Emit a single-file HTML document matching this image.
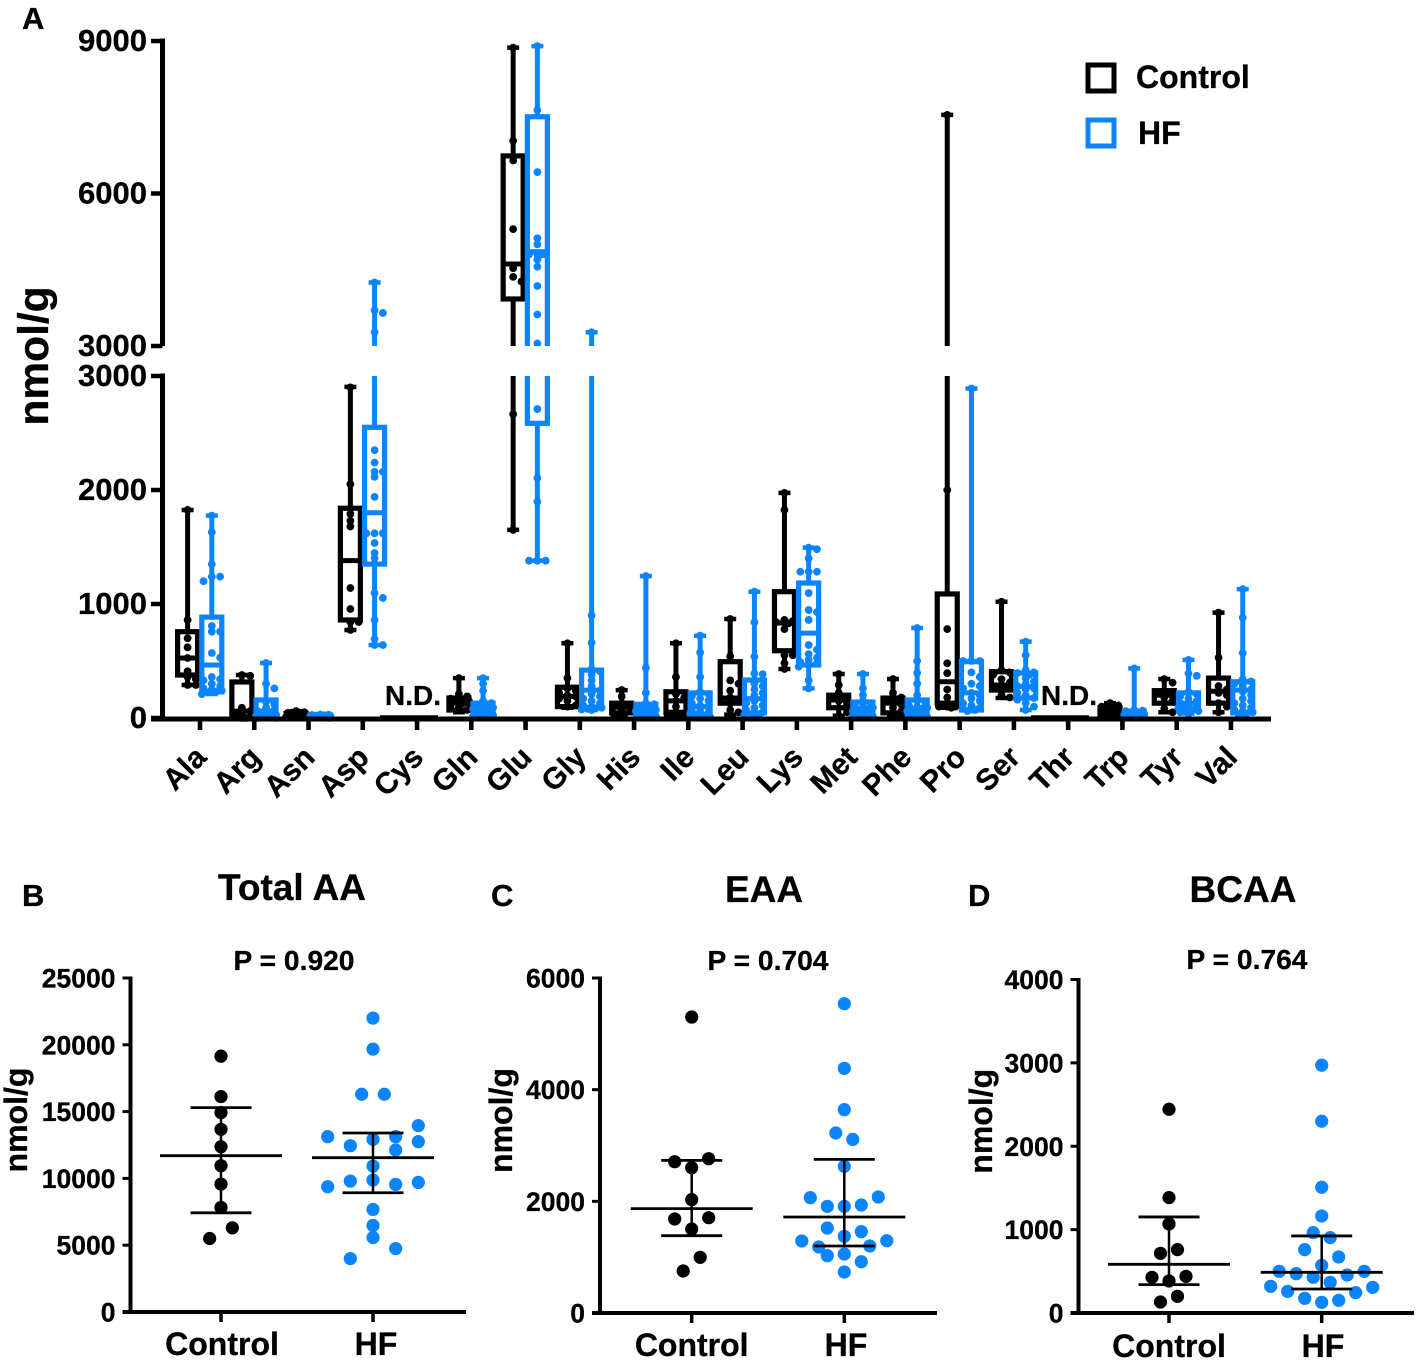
<!DOCTYPE html>
<html lang="en">
<head>
<meta charset="utf-8">
<title>Amino acid concentrations: Control vs HF</title>
<style>
html,body{margin:0;padding:0;background:#fff;}
svg{display:block;filter:blur(0.35px);}
text{font-family:"Liberation Sans",Arial,sans-serif;font-weight:700;fill:#000;stroke:#000;stroke-width:0.3px;}
</style>
</head>
<body>
<svg id="figure" xmlns="http://www.w3.org/2000/svg" width="1417" height="1361" viewBox="0 0 1417 1361">
  <defs>
    <clipPath id="broken-axis-clip">
      <rect x="0" y="0" width="1417" height="346"></rect>
      <rect x="0" y="376" width="1417" height="985"></rect>
    </clipPath>
  </defs>
  <rect x="0" y="0" width="1417" height="1361" fill="#fff"></rect>

  <text x="22" y="29" font-size="31">A</text>
  <text x="22" y="906" font-size="31">B</text>
  <text x="491" y="906" font-size="31">C</text>
  <text x="968" y="906" font-size="31">D</text>

  <text transform="translate(48,356) rotate(-90)" text-anchor="middle" font-size="42.5">nmol/g</text>
  <text x="413" y="705" text-anchor="middle" font-size="28">N.D.</text>
  <text x="1069" y="705" text-anchor="middle" font-size="28">N.D.</text>

  <g>
    <rect x="1088" y="65" width="26" height="26" fill="none" stroke="#000" stroke-width="5"></rect>
    <text x="1136" y="88" font-size="32">Control</text>
    <rect x="1088" y="120" width="26" height="26" fill="none" stroke="#0a84ff" stroke-width="5"></rect>
    <text x="1138" y="144" font-size="32">HF</text>
  </g>

  <text x="292" y="900" text-anchor="middle" font-size="37">Total AA</text>
  <text x="764" y="902" text-anchor="middle" font-size="37">EAA</text>
  <text x="1243" y="902" text-anchor="middle" font-size="37">BCAA</text>
  <text x="294" y="970" text-anchor="middle" font-size="28" textLength="121" lengthAdjust="spacingAndGlyphs">P = 0.920</text>
  <text x="768" y="970" text-anchor="middle" font-size="28" textLength="121" lengthAdjust="spacingAndGlyphs">P = 0.704</text>
  <text x="1247" y="969" text-anchor="middle" font-size="28" textLength="121" lengthAdjust="spacingAndGlyphs">P = 0.764</text>

  <g id="panel-a"></g>
  <g id="panel-b"></g>
  <g id="panel-c"></g>
  <g id="panel-d"></g>
</svg>

<script>
// ---------- Panel A data (nmol/g) ----------
const aminoAcids = ['Ala','Arg','Asn','Asp','Cys','Gln','Glu','Gly','His','Ile','Leu','Lys','Met','Phe','Pro','Ser','Thr','Trp','Tyr','Val'];
const panelAUpperTicks = [3000, 6000, 9000];
const panelALowerTicks = [0, 1000, 2000, 3000];

const controlMin    = [290,  0,  5, 772, null,  50, 1650,  90, 30,  10,  30, 430, 20, 10,   90, 175, null,  5,  50,  50];
const controlQ1     = [377,  0, 15, 860, null,  70, 3925, 100, 45,  50, 130, 590, 90, 45,  130, 245, null, 10, 130, 130];
const controlMedian = [526, 60, 25,1380, null, 130, 4613, 190, 95, 150, 175, 833,158,130,  318, 290, null, 50, 200, 235];
const controlQ3     = [757,316, 40,1840, null, 175, 6740, 270,130, 230, 494,1108,200,175, 1088, 406, null, 90, 240, 350];
const controlMax    = [1825,377,60,2905, null, 350, 8870, 656,245, 656, 868,1975,386,342, 7547,1020, null,130, 342, 924];

const hfMin    = [210,  0,  0, 640, null,  15, 1380,  70, 10,  10,  20, 260,  5,  5,  60,  70, null,  5,  40,  30];
const hfQ1     = [230, 10,  5,1350, null,  30, 2585,  90, 30,  30,  45, 465, 20, 20,  70, 175, null, 10,  70,  45];
const hfMedian = [465, 60, 15,1800, null,  80, 4856, 245, 70, 100, 170, 745, 70, 80, 220, 275, null, 30, 130, 245];
const hfQ3     = [885,158, 25,2550, null, 130, 7510, 420,120, 220, 333,1184,140,158, 494, 395, null, 60, 220, 318];
const hfMax    = [1775,482,30,4250, null, 350, 8900,3270,1245,722,1108,1494,386,789,2890, 670, null,435, 510,1130];

const controlPoints = [
  [1825,860,700,620,526,410,360,340,290,290],
  [377,370,90,60,40,20,10,5,0,0],
  [60,50,45,30,25,20,15,10,5],
  [2900,2050,1790,1730,1680,1140,956,842,842,772],
  [],
  [350,210,190,170,160,150,130,110,90,70],
  [8870,7040,6650,5300,4530,4360,4270,2664,1650],
  [656,350,260,240,220,200,190,170,150,110,100],
  [245,190,130,110,100,80,60,40,30],
  [656,360,210,180,150,100,50,40,20],
  [868,540,330,300,240,180,130,70,50],
  [1975,1825,860,850,840,830,780,550,550,480,430],
  [386,290,220,180,150,120,90,50,20],
  [342,220,180,150,120,90,60,30,10],
  [7547,2000,780,480,393,250,180,100,100,100,90],
  [1020,420,400,380,340,310,280,260,200,180],
  [],
  [130,110,100,90,70,60,40,20,10],
  [342,310,230,200,180,150,130,80,50],
  [924,530,280,250,220,200,130,100,50]
];
const hfPoints = [
  [1775,1629,1350,1240,1240,1200,807,757,757,570,530,360,340,330,300,280,260,250,240,228,225,210],
  [482,300,260,140,120,90,70,60,50,40,30,20,15,10,5,5,0,0],
  [30,28,26,24,22,20,18,16,14,12,10,8,6,4,2,0],
  [4250,3700,3650,3270,2350,2240,2160,2160,2115,1940,1620,1620,1620,1535,1447,1400,1096,1053,860,693,640,640],
  [],
  [350,300,240,150,130,120,110,100,90,85,80,70,60,55,50,40,35,30,25,20,15],
  [8900,7640,6420,5120,5000,4800,4800,4800,4800,4700,4560,4180,3620,3050,2710,2105,1897,1380,1380,1380],
  [3270,900,660,430,410,380,330,280,240,210,190,170,150,130,110,100,90,85,80,75,70],
  [1245,440,220,130,120,100,90,80,70,65,60,55,50,40,35,30,25,20,15,10],
  [722,575,360,230,210,190,170,150,130,110,100,80,60,50,40,30,20,10],
  [1108,840,538,390,385,300,280,250,220,200,170,150,130,110,90,70,50,40,30,20],
  [1494,1480,1400,1283,1283,1283,1096,947,930,860,640,600,560,530,510,490,480,465,450,330,260],
  [386,260,200,150,130,110,100,90,80,70,60,50,40,30,25,20,15,10,5],
  [789,500,395,300,200,150,130,110,100,90,80,70,60,50,40,30,20,15,10,5],
  [2890,500,500,500,400,360,300,280,260,220,200,170,150,130,110,90,80,70,60],
  [670,550,420,400,395,380,350,320,300,280,260,250,220,200,175,160,130,100,70],
  [],
  [435,70,65,60,50,45,40,35,30,25,20,15,10,8,6,5],
  [510,390,370,230,210,190,170,150,130,110,100,90,80,70,60,50,40],
  [1130,880,570,340,320,300,280,250,230,200,170,150,130,110,90,70,60,50,40,30]
];

// ---------- Panels B-D data ----------
const scatterCategories = ['Control', 'HF'];

const totalAaTicks = [0, 5000, 10000, 15000, 20000, 25000];
const totalAaControlValues = [19150,16125,14925,13675,12375,10950,9575,7825,6300,5500];
const totalAaControlSwarm  = [0,0,0,0,0,0,0,0,1,-1];
const totalAaHfValues = [22000,19675,16300,16300,13950,13125,13125,12925,12750,12450,12125,10925,9875,9800,9700,9550,9375,7675,6475,5575,4750,4000];
const totalAaHfSwarm  = [0,0,-1,1,4,-4,2,0,4,-2,2,0,0,-2,4,2,-4,0,0,0,2,-2];
const totalAaCenter = [11700, 11550];
const totalAaUpper  = [15300, 13400];
const totalAaLower  = [7425, 8925];

const eaaTicks = [0, 2000, 4000, 6000];
const eaaControlValues = [5301,2764,2710,2603,2030,1707,1684,1504,997,752];
const eaaControlSwarm  = [0,2,-2,0,0,2,-2,0,1,-1];
const eaaHfValues = [5540,4382,3642,3224,3110,2627,2066,2078,1910,1910,1934,1522,1457,1373,1290,1295,1182,1200,1027,1057,919,734];
const eaaHfSwarm  = [0,0,0,-1,1,0,-4,4,-2,0,2,-2,2,0,-5,5,-3,3,-2,0,2,0];
const eaaCenter = [1869, 1719];
const eaaUpper  = [2734, 2752];
const eaaLower  = [1385, 1200];

const bcaaTicks = [0, 1000, 2000, 3000, 4000];
const bcaaControlValues = [2444,1384,1068,716,760,428,440,384,200,132];
const bcaaControlSwarm  = [0,0,0,-1,1,-2,2,0,1,-1];
const bcaaHfValues = [2972,2300,1508,1164,964,904,760,672,572,500,500,472,456,428,368,320,308,260,244,176,152,128];
const bcaaHfSwarm  = [0,0,0,0,-1,1,-2,2,0,-5,5,-3,3,-1,1,-6,6,-4,4,-2,2,0];
const bcaaCenter = [584, 488];
const bcaaUpper  = [1152, 924];
const bcaaLower  = [340, 288];

// ---------- Helpers ----------
const NS = 'http://www.w3.org/2000/svg';
const BLACK = '#000';
const BLUE = '#0a84ff';
function mk(tag, parent, attrs) {
  const el = document.createElementNS(NS, tag);
  for (const k in attrs) el.setAttribute(k, attrs[k]);
  parent.appendChild(el);
  return el;
}

// ---------- Panel A ----------
const panelA = document.getElementById('panel-a');
function xCategoryA(i) { return 200 + i * 54.26; }
function yA(v) {
  return v > 3000 ? 346 - (v - 3000) * 0.05083 : 718 - v * 0.114;
}

// simple beeswarm: values -> horizontal offsets, avoiding overlaps
function swarmOffsets(values) {
  const placed = [];
  const slots = [0, 8.3, -8.3, 4, -4, 10, -10];
  return values.map(function (v) {
    const y = yA(v);
    let chosen = 0;
    let best = -1;
    for (const s of slots) {
      let nearest = Infinity;
      for (const p of placed) {
        nearest = Math.min(nearest, Math.hypot(p.x - s, p.y - y));
      }
      if (nearest >= 5) { chosen = s; best = nearest; break; }
      if (nearest > best) { best = nearest; chosen = s; }
    }
    placed.push({ x: chosen, y: y });
    return chosen;
  });
}

function drawBox(parent, cx, color, lo, q1, med, q3, hi, pts, label) {
  const g = mk('g', parent, {});
  
  

  const whisker = mk('line', g, { x1: cx, x2: cx, y1: yA(lo), y2: yA(hi), stroke: color, 'stroke-width': 5 });
  
  

  const capHi = mk('line', g, { x1: cx - 6, x2: cx + 6, y1: yA(hi), y2: yA(hi), stroke: color, 'stroke-width': 4.5 });
  
  

  const capLo = mk('line', g, { x1: cx - 6, x2: cx + 6, y1: yA(lo), y2: yA(lo), stroke: color, 'stroke-width': 4.5 });
  
  

  const box = mk('rect', g, { x: cx - 10, y: yA(q3), width: 20, height: Math.max(0, yA(q1) - yA(q3)), fill: '#fff', stroke: color, 'stroke-width': 5.2 });
  
  

  const median = mk('line', g, { x1: cx - 10, x2: cx + 10, y1: yA(med), y2: yA(med), stroke: color, 'stroke-width': 5 });
  
  

  const offsets = swarmOffsets(pts);
  pts.forEach(function (v, k) {
    const dot = mk('circle', g, { cx: cx + offsets[k], cy: yA(v), r: 3.9, fill: color });
    
    
  });
}

const marksA = mk('g', panelA, { 'clip-path': 'url(#broken-axis-clip)' });



aminoAcids.forEach(function (name, i) {
  const tick = xCategoryA(i);
  if (controlMedian[i] === null) {
    const nd = mk('line', marksA, { x1: tick - 37, x2: tick + 21, y1: 716, y2: 716, stroke: BLACK, 'stroke-width': 1.5 });
    
    
    return;
  }
  drawBox(marksA, tick - 12.4, BLACK, controlMin[i], controlQ1[i], controlMedian[i], controlQ3[i], controlMax[i], controlPoints[i], name.toLowerCase() + '-control');
  drawBox(marksA, tick + 11.8, BLUE, hfMin[i], hfQ1[i], hfMedian[i], hfQ3[i], hfMax[i], hfPoints[i], name.toLowerCase() + '-hf');
});

// axes
const axisUpperA = mk('line', panelA, { x1: 162.5, x2: 162.5, y1: 38.5, y2: 346, stroke: BLACK, 'stroke-width': 5 });


const axisLowerA = mk('line', panelA, { x1: 162.5, x2: 162.5, y1: 373.5, y2: 720, stroke: BLACK, 'stroke-width': 5 });


const axisXA = mk('line', panelA, { x1: 151, x2: 1271, y1: 719, y2: 719, stroke: BLACK, 'stroke-width': 5 });



panelAUpperTicks.forEach(function (v) {
  const t = mk('line', panelA, { x1: 151, x2: 162.5, y1: yA(v + 0.01), y2: yA(v + 0.01), stroke: BLACK, 'stroke-width': 4.5 });
  
  
  const l = mk('text', panelA, { x: 147, y: yA(v + 0.01) + 10, 'text-anchor': 'end', 'font-size': 31 });
  l.textContent = v;
  
  
});
panelALowerTicks.forEach(function (v) {
  const t = mk('line', panelA, { x1: 151, x2: 162.5, y1: yA(v), y2: yA(v), stroke: BLACK, 'stroke-width': 4.5 });
  
  
  const l = mk('text', panelA, { x: 147, y: yA(v) + 10, 'text-anchor': 'end', 'font-size': 31 });
  l.textContent = v;
  
  
});
aminoAcids.forEach(function (name, i) {
  const x = xCategoryA(i);
  const t = mk('line', panelA, { x1: x, x2: x, y1: 719, y2: 730, stroke: BLACK, 'stroke-width': 4.6 });
  
  
  const l = mk('text', panelA, { x: x + 8, y: 759, 'text-anchor': 'end', 'font-size': 30, transform: 'rotate(-45 ' + (x + 8) + ' 759)' });
  l.textContent = name;
  
  
});

// ---------- Panels B-D ----------
function drawScatter(cfg) {
  const root = document.getElementById(cfg.id);
  const maxTick = cfg.ticks[cfg.ticks.length - 1];
  const y = function (v) { return cfg.y0 - v / maxTick * (cfg.y0 - cfg.yTop); };

  const title = mk('text', root, { transform: 'translate(' + cfg.titleX + ',' + ((cfg.y0 + cfg.yTop) / 2 - 25) + ') rotate(-90)', 'text-anchor': 'middle', 'font-size': 32 });
  title.textContent = 'nmol/g';
  
  

  const axisY = mk('line', root, { x1: cfg.axisX, x2: cfg.axisX, y1: cfg.yTop - 1.5, y2: cfg.y0, stroke: BLACK, 'stroke-width': 4 });
  
  
  const axisX = mk('line', root, { x1: cfg.axisX - 8, x2: cfg.axisRight, y1: cfg.y0, y2: cfg.y0, stroke: BLACK, 'stroke-width': 4 });
  
  

  cfg.ticks.forEach(function (v) {
    const t = mk('line', root, { x1: cfg.axisX - 8, x2: cfg.axisX, y1: y(v), y2: y(v), stroke: BLACK, 'stroke-width': 3 });
    
    
    const l = mk('text', root, { x: cfg.axisX - 15, y: y(v) + 9.5, 'text-anchor': 'end', 'font-size': 26.5 });
    l.textContent = v;
    
    
  });

  scatterCategories.forEach(function (name, i) {
    const cx = cfg.cats[i];
    const color = i === 0 ? BLACK : BLUE;
    const values = i === 0 ? cfg.controlValues : cfg.hfValues;
    const swarm = i === 0 ? cfg.controlSwarm : cfg.hfSwarm;

    const t = mk('line', root, { x1: cx, x2: cx, y1: cfg.y0, y2: cfg.y0 + 10, stroke: BLACK, 'stroke-width': 3.5 });
    
    
    const l = mk('text', root, { x: cfg.labelX[i], y: cfg.labelY, 'text-anchor': 'middle', 'font-size': 32 });
    l.textContent = name;
    
    

    values.forEach(function (v, k) {
      const dot = mk('circle', root, { cx: cx + swarm[k] * cfg.unit, cy: y(v), r: 6.6, fill: color });
      
      
    });

    const errorBar = mk('line', root, { x1: cx, x2: cx, y1: y(cfg.upper[i]), y2: y(cfg.lower[i]), stroke: BLACK, 'stroke-width': 2.5 });
    
    
    const capTop = mk('line', root, { x1: cx - 30.5, x2: cx + 30.5, y1: y(cfg.upper[i]), y2: y(cfg.upper[i]), stroke: BLACK, 'stroke-width': 2.8 });
    
    
    const capBottom = mk('line', root, { x1: cx - 30.5, x2: cx + 30.5, y1: y(cfg.lower[i]), y2: y(cfg.lower[i]), stroke: BLACK, 'stroke-width': 2.8 });
    
    
    const center = mk('line', root, { x1: cx - 61, x2: cx + 61, y1: y(cfg.center[i]), y2: y(cfg.center[i]), stroke: BLACK, 'stroke-width': 2.8 });
    
    
  });
}

drawScatter({
  id: 'panel-b', ticks: totalAaTicks, y0: 1312, yTop: 978, axisX: 130.5, axisRight: 466, titleX: 27,
  cats: [221, 373], labelX: [222, 376], labelY: 1355, unit: 11.33,
  controlValues: totalAaControlValues, controlSwarm: totalAaControlSwarm,
  hfValues: totalAaHfValues, hfSwarm: totalAaHfSwarm,
  center: totalAaCenter, upper: totalAaUpper, lower: totalAaLower
});
drawScatter({
  id: 'panel-c', ticks: eaaTicks, y0: 1313, yTop: 978, axisX: 600, axisRight: 937, titleX: 512,
  cats: [691.7, 844.3], labelX: [691.7, 846], labelY: 1356, unit: 8.5,
  controlValues: eaaControlValues, controlSwarm: eaaControlSwarm,
  hfValues: eaaHfValues, hfSwarm: eaaHfSwarm,
  center: eaaCenter, upper: eaaUpper, lower: eaaLower
});
drawScatter({
  id: 'panel-d', ticks: bcaaTicks, y0: 1313, yTop: 979.5, axisX: 1078.5, axisRight: 1414, titleX: 992,
  cats: [1169, 1321.7], labelX: [1169, 1323], labelY: 1357, unit: 8.5,
  controlValues: bcaaControlValues, controlSwarm: bcaaControlSwarm,
  hfValues: bcaaHfValues, hfSwarm: bcaaHfSwarm,
  center: bcaaCenter, upper: bcaaUpper, lower: bcaaLower
});
</script>
</body>
</html>
